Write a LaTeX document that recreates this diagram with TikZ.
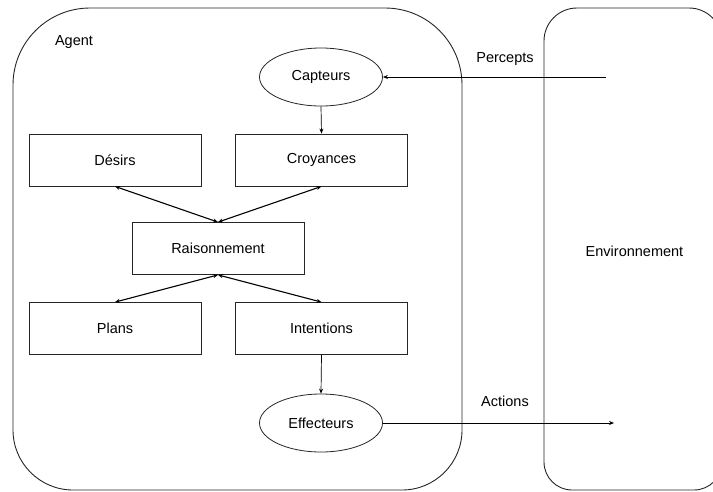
\documentclass[tikz,border=0pt]{standalone}
\usepackage{fontspec}
\setmainfont{Liberation Sans}
\usetikzlibrary{arrows.meta, positioning, shapes.geometric}

\begin{document}
\begin{tikzpicture}[x=1pt, y=-1pt, font=\fontsize{14.5}{17}\selectfont,
    zone/.style={draw=black!85, line width=0.9pt},
    box/.style={rectangle, draw=black!85, line width=0.8pt, minimum width=172pt, minimum height=52pt, inner sep=0pt},
    sensor/.style={ellipse, draw=black!85, line width=0.8pt, minimum width=123pt, minimum height=58pt, inner sep=0pt},
    link/.style={-{Stealth[length=5pt, width=4pt]}, line width=0.7pt},
    both/.style={{Stealth[length=5pt, width=4pt]}-{Stealth[length=5pt, width=4pt]}, line width=1.1pt}]
    \clip (0, 0) rectangle (713, 491);

    %Agent and environment
    \draw[zone, rounded corners=77pt] (13, 250) -- (13, 8) -- (462, 8) -- (462, 250)
        [rounded corners=60pt] -- (462, 490) -- (13, 490) -- cycle;
    \draw[zone, rounded corners=33pt] (544, 250) -- (544, 8) -- (722, 8) -- (722, 250)
        [rounded corners=28pt] -- (722, 490) -- (544, 490) -- cycle;
    \node at (74, 42) (agent) {Agent};
    \node at (634.5, 251) (env) {Environnement};

    %Inner parts
    \node at (321, 77) [sensor] (capteurs) {Capteurs};
    \node at (115, 160) [box] (desirs) {Désirs};
    \node at (321.5, 160) [box] (croyances) {Croyances};
    \node at (218, 248.5) [box] (raison) {Raisonnement};
    \node at (115, 328.5) [box] (plans) {Plans};
    \node at (321.5, 328.5) [box] (intentions) {Intentions};
    \node at (321, 423) [sensor] (effecteurs) {Effecteurs};

    \coordinate (p_in) at (606, 77);
    \coordinate (a_out) at (614, 423);

    \draw[link] (capteurs.south) -- (croyances.north);
    \draw[link] (intentions.south) -- (effecteurs.north);

    \draw[both] (desirs.south) -- (raison.north);
    \draw[both] (croyances.south) -- (raison.north);
    \draw[both] (plans.north) -- (raison.south);
    \draw[both] (intentions.north) -- (raison.south);

    %Percepts and actions
    \draw[link] (p_in) -- (capteurs.east);
    \draw[link] (effecteurs.east) -- (a_out);
    \node at (505, 59) (percepts) {Percepts};
    \node at (505, 401) (actions) {Actions};
\end{tikzpicture}
\end{document}
